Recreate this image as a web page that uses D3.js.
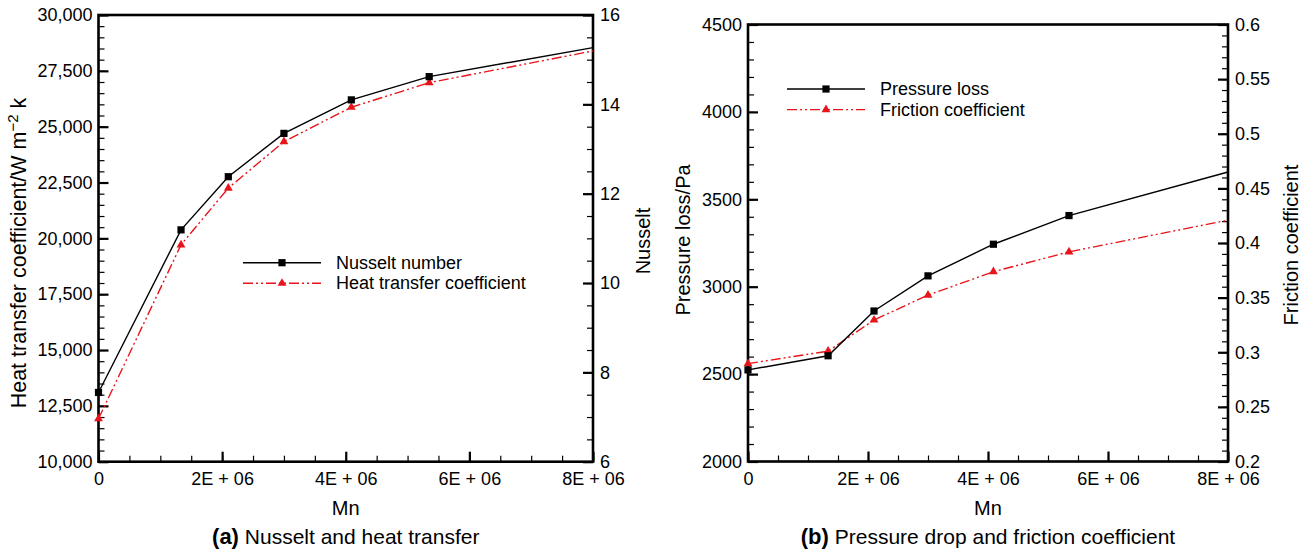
<!DOCTYPE html>
<html>
<head>
<meta charset="utf-8">
<script src="https://cdn.jsdelivr.net/npm/d3@7"></script>
<style>
  body { margin: 0; background: #fff; }
  svg text { font-family: "Liberation Sans", Arial, Helvetica, sans-serif; fill: #000; }
</style>
</head>
<body>
<svg id="chart" width="1308" height="553"></svg>
<script>
// Mn values (x axis), shared by both panels
const mn = [0, 1.335e6, 2.1e6, 3.0e6, 4.09e6, 5.35e6, 8e6];
const markedPoints = 6; // last point sits on the right frame, no marker

// panel (a)
const nusselt = [7.55, 11.19, 12.38, 13.35, 14.10, 14.62, 15.27];
const heatCoef = [11920, 19710, 22250, 24330, 25870, 26970, 28390];

// panel (b)
const pressureLoss = [2524, 2605, 2861, 3062, 3243, 3407, 3656];
const friction = [0.2896, 0.301, 0.3295, 0.3523, 0.3737, 0.3919, 0.4209];

// tick labels
const xTicks = [0, 2e6, 4e6, 6e6, 8e6];
const xTickLabels = ["0", "2E + 06", "4E + 06", "6E + 06", "8E + 06"];
const heatTicks = [10000, 12500, 15000, 17500, 20000, 22500, 25000, 27500, 30000];
const nusseltTicks = [6, 8, 10, 12, 14, 16];
const pressureTicks = [2000, 2500, 3000, 3500, 4000, 4500];
const frictionTicks = [0.2, 0.25, 0.3, 0.35, 0.4, 0.45, 0.5, 0.55, 0.6];

const svg = d3.select("#chart");
svg.append("rect").attr("width", 1308).attr("height", 553).attr("fill", "#fff");

const RED = "#e8141b";
const DASH = "10,3,2,3,2,3";
const TICK_FS = 18;

function range(a, b, step) {
  let out = [];
  for (let v = a; v <= b + step * 0.01; v += step) out.push(+v.toFixed(6));
  return out;
}

function drawPanel(p) {
  const g = svg.append("g");
  const x = d3.scaleLinear().domain([0, 8e6]).range([p.x0, p.x1]);
  const yL = d3.scaleLinear().domain(p.leftDomain).range([p.y1, p.y0]);
  const yR = d3.scaleLinear().domain(p.rightDomain).range([p.y1, p.y0]);

  // minor ticks first
  g.append("g").attr("transform", "translate(0," + p.y1 + ")")
    .call(d3.axisBottom(x).tickValues(range(0, 8e6, 5e5)).tickSizeInner(-6).tickSizeOuter(0).tickFormat(""))
    .call(a => a.select(".domain").remove())
    .call(a => a.selectAll("line").attr("stroke-width", 1.2));
  g.append("g").attr("transform", "translate(" + p.x0 + ",0)")
    .call(d3.axisLeft(yL).tickValues(p.leftMinor).tickSizeInner(-6).tickSizeOuter(0).tickFormat(""))
    .call(a => a.select(".domain").remove())
    .call(a => a.selectAll("line").attr("stroke-width", 1.2));
  g.append("g").attr("transform", "translate(" + p.x1 + ",0)")
    .call(d3.axisRight(yR).tickValues(p.rightMinor).tickSizeInner(-6).tickSizeOuter(0).tickFormat(""))
    .call(a => a.select(".domain").remove())
    .call(a => a.selectAll("line").attr("stroke-width", 1.2));

  // major ticks with labels
  g.append("g").attr("transform", "translate(0," + p.y1 + ")")
    .call(d3.axisBottom(x).tickValues(xTicks).tickSizeInner(-10).tickSizeOuter(0).tickPadding(11)
      .tickFormat((d, i) => xTickLabels[i]))
    .call(a => a.select(".domain").remove())
    .call(a => a.selectAll("line").attr("stroke-width", 2.2))
    .call(a => a.selectAll("text").attr("font-size", TICK_FS).attr("font-family", null));
  g.append("g").attr("transform", "translate(" + p.x0 + ",0)")
    .call(d3.axisLeft(yL).tickValues(p.leftTicks).tickSizeInner(-10).tickSizeOuter(0).tickPadding(6)
      .tickFormat(p.leftFormat))
    .call(a => a.select(".domain").remove())
    .call(a => a.selectAll("line").attr("stroke-width", 2.2))
    .call(a => a.selectAll("text").attr("font-size", TICK_FS).attr("font-family", null));
  g.append("g").attr("transform", "translate(" + p.x1 + ",0)")
    .call(d3.axisRight(yR).tickValues(p.rightTicks).tickSizeInner(-10).tickSizeOuter(0).tickPadding(7)
      .tickFormat(p.rightFormat))
    .call(a => a.select(".domain").remove())
    .call(a => a.selectAll("line").attr("stroke-width", 2.2))
    .call(a => a.selectAll("text").attr("font-size", TICK_FS).attr("font-family", null));

  // frame
  g.append("rect")
    .attr("x", p.x0).attr("y", p.y0)
    .attr("width", p.x1 - p.x0).attr("height", p.y1 - p.y0)
    .attr("fill", "none").attr("stroke", "#000").attr("stroke-width", 2.6);

  // series
  const yRed = p.redOnLeft ? yL : yR;
  const yBlack = p.redOnLeft ? yR : yL;

  g.append("path").datum(p.redData)
    .attr("d", d3.line().x((d, i) => x(mn[i])).y(d => yRed(d)))
    .attr("fill", "none").attr("stroke", RED).attr("stroke-width", 1.4)
    .attr("stroke-dasharray", DASH);
  g.append("path").datum(p.blackData)
    .attr("d", d3.line().x((d, i) => x(mn[i])).y(d => yBlack(d)))
    .attr("fill", "none").attr("stroke", "#000").attr("stroke-width", 1.4);

  const tri = d3.symbol().type(d3.symbolTriangle).size(34);
  g.selectAll(".tri").data(p.redData.slice(0, markedPoints)).enter()
    .append("path")
    .attr("transform", (d, i) => "translate(" + x(mn[i]) + "," + yRed(d) + ")")
    .attr("d", tri).attr("fill", RED);
  g.selectAll(".sq").data(p.blackData.slice(0, markedPoints)).enter()
    .append("rect")
    .attr("x", (d, i) => x(mn[i]) - 3.6).attr("y", d => yBlack(d) - 3.6)
    .attr("width", 7.2).attr("height", 7.2).attr("fill", "#000");

  // legend
  const lg = g.append("g").attr("transform", "translate(" + p.legendX + "," + p.legendY + ")");
  lg.append("line").attr("x1", 0).attr("x2", 78).attr("y1", 0).attr("y2", 0)
    .attr("stroke", "#000").attr("stroke-width", 1.4);
  lg.append("rect").attr("x", 39 - 3.6).attr("y", -3.6).attr("width", 7.2).attr("height", 7.2).attr("fill", "#000");
  lg.append("text").attr("x", 93).attr("y", 6).attr("font-size", 18).text(p.blackName);
  lg.append("line").attr("x1", 0).attr("x2", 78).attr("y1", 20.6).attr("y2", 20.6)
    .attr("stroke", RED).attr("stroke-width", 1.4).attr("stroke-dasharray", DASH);
  lg.append("path").attr("transform", "translate(39,20.6)").attr("d", tri).attr("fill", RED);
  lg.append("text").attr("x", 93).attr("y", 26.6).attr("font-size", 18).text(p.redName);

  // axis titles
  const cx = (p.x0 + p.x1) / 2;
  g.append("text").attr("x", cx).attr("y", 515).attr("text-anchor", "middle")
    .attr("font-size", 20).text("Mn");
  const lt = g.append("text")
    .attr("transform", "translate(" + p.leftTitleX + "," + p.leftTitleY + ") rotate(-90)")
    .attr("text-anchor", "middle").attr("font-size", p.leftTitleSize);
  p.leftTitle(lt);
  g.append("text")
    .attr("transform", "translate(" + p.rightTitleX + "," + p.rightTitleY + ") rotate(-90)")
    .attr("text-anchor", "middle").attr("font-size", 20).text(p.rightTitle);

  // caption
  const cap = g.append("text").attr("x", cx).attr("y", 544).attr("text-anchor", "middle").attr("font-size", 21);
  cap.append("tspan").attr("font-weight", "bold").attr("font-size", 22).text(p.capLetter);
  cap.append("tspan").text(" " + p.capText);
}

drawPanel({
  x0: 98.5, x1: 593, y0: 15, y1: 461.7,
  leftDomain: [10000, 30000], rightDomain: [6, 16],
  leftTicks: heatTicks, leftMinor: range(10000, 30000, 500), leftFormat: d3.format(","),
  rightTicks: nusseltTicks, rightMinor: range(6, 16, 0.5), rightFormat: d3.format("d"),
  redOnLeft: true, redData: heatCoef, blackData: nusselt,
  blackName: "Nusselt number", redName: "Heat transfer coefficient",
  legendX: 243, legendY: 262.7,
  leftTitleX: 26, leftTitleY: 253, leftTitleSize: 21.5,
  leftTitle: t => {
    t.append("tspan").text("Heat transfer coefficient/W m");
    t.append("tspan").attr("dy", -8).attr("font-size", 15).text("\u22122");
    t.append("tspan").attr("dy", 8).text(" k");
  },
  rightTitleX: 650, rightTitleY: 241, rightTitle: "Nusselt",
  capLetter: "(a)", capText: "Nusselt and heat transfer"
});

drawPanel({
  x0: 748, x1: 1228, y0: 24.5, y1: 461.5,
  leftDomain: [2000, 4500], rightDomain: [0.2, 0.6],
  leftTicks: pressureTicks, leftMinor: range(2000, 4500, 100), leftFormat: d3.format("d"),
  rightTicks: frictionTicks, rightMinor: range(0.2, 0.6, 0.01), rightFormat: d => String(+d.toFixed(2)),
  redOnLeft: false, redData: friction, blackData: pressureLoss,
  blackName: "Pressure loss", redName: "Friction coefficient",
  legendX: 787, legendY: 89,
  leftTitleX: 690, leftTitleY: 240, leftTitleSize: 20,
  leftTitle: t => t.text("Pressure loss/Pa"),
  rightTitleX: 1298, rightTitleY: 245, rightTitle: "Friction coefficient",
  capLetter: "(b)", capText: "Pressure drop and friction coefficient"
});
</script>
</body>
</html>
